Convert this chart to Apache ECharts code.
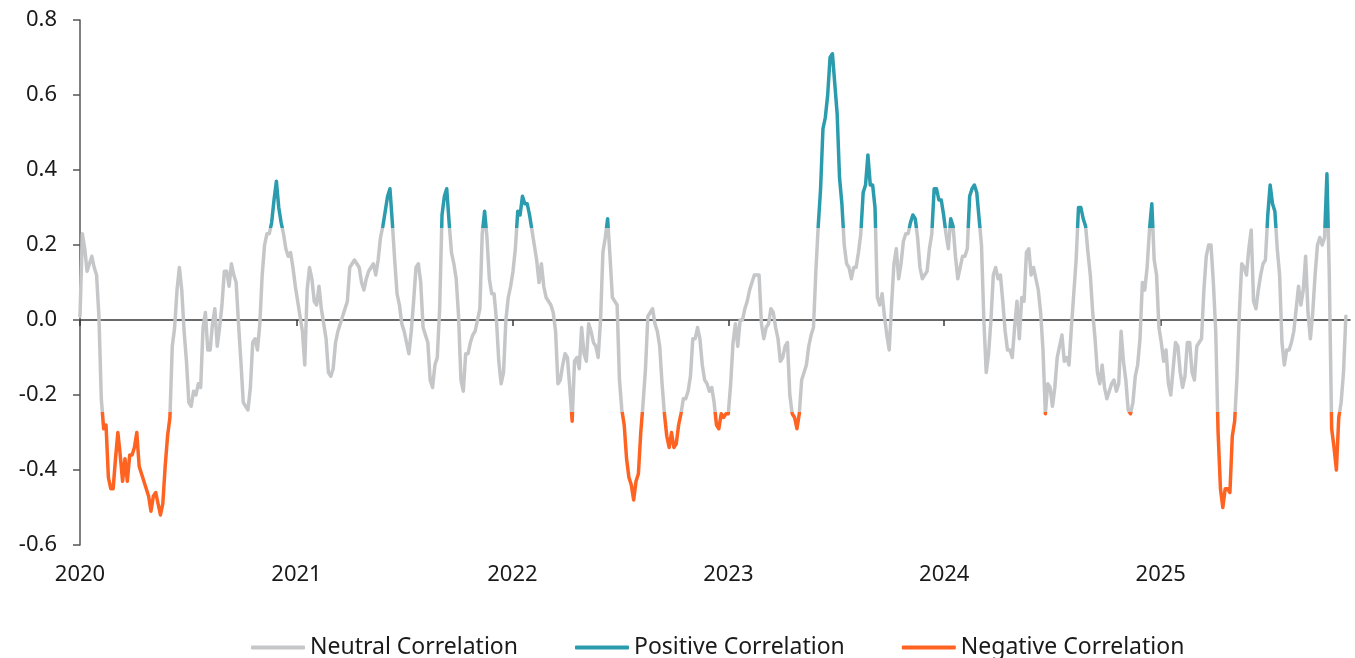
<!DOCTYPE html>
<html>
<head>
<meta charset="utf-8">
<script src="https://cdn.jsdelivr.net/npm/echarts@6/dist/echarts.min.js"></script>
<style>
  html, body { margin: 0; padding: 0; background: #fff; }
  #chart { width: 1355px; height: 658px; }
</style>
</head>
<body>
<div id="chart"></div>
<script>
// correlation readings, one every 4 days from 1 Jan 2020
const startDate = [2020, 0, 1];
const stepDays = 4;
const corr = [
  0.01, 0.23, 0.19, 0.13, 0.15, 0.17, 0.14, 0.12, 0.01, -0.21,
  -0.29, -0.28, -0.42, -0.45, -0.45, -0.37, -0.30, -0.36, -0.43, -0.37,
  -0.43, -0.36, -0.36, -0.34, -0.30, -0.39, -0.41, -0.43, -0.45, -0.47,
  -0.51, -0.47, -0.46, -0.49, -0.52, -0.49, -0.39, -0.31, -0.26, -0.07,
  -0.02, 0.08, 0.14, 0.08, -0.03, -0.11, -0.22, -0.23, -0.19, -0.20,
  -0.17, -0.18, -0.02, 0.02, -0.08, -0.08, -0.01, 0.03, -0.07, -0.02,
  0.04, 0.13, 0.13, 0.09, 0.15, 0.12, 0.10, -0.01, -0.11, -0.22,
  -0.23, -0.24, -0.18, -0.06, -0.05, -0.08, -0.01, 0.12, 0.20, 0.23,
  0.23, 0.26, 0.32, 0.37, 0.30, 0.26, 0.23, 0.19, 0.17, 0.18,
  0.14, 0.09, 0.05, 0.01, -0.03, -0.12, 0.08, 0.14, 0.11, 0.05,
  0.04, 0.09, 0.03, -0.01, -0.05, -0.14, -0.15, -0.13, -0.06, -0.03,
  -0.01, 0.01, 0.03, 0.05, 0.14, 0.15, 0.16, 0.15, 0.14, 0.10,
  0.08, 0.11, 0.13, 0.14, 0.15, 0.12, 0.16, 0.22, 0.25, 0.29,
  0.33, 0.35, 0.26, 0.16, 0.07, 0.04, -0.01, -0.03, -0.06, -0.09,
  -0.03, 0.05, 0.14, 0.15, 0.10, -0.02, -0.04, -0.06, -0.16, -0.18,
  -0.12, -0.10, 0.03, 0.28, 0.33, 0.35, 0.26, 0.18, 0.15, 0.11,
  0.01, -0.16, -0.19, -0.09, -0.09, -0.06, -0.04, -0.03, 0.00, 0.03,
  0.23, 0.29, 0.22, 0.11, 0.07, 0.07, 0.00, -0.11, -0.17, -0.14,
  0.00, 0.06, 0.09, 0.13, 0.19, 0.29, 0.28, 0.33, 0.31, 0.31,
  0.28, 0.24, 0.20, 0.16, 0.10, 0.15, 0.09, 0.06, 0.05, 0.04,
  0.02, -0.03, -0.17, -0.16, -0.12, -0.09, -0.10, -0.18, -0.27, -0.11,
  -0.10, -0.13, -0.02, -0.09, -0.11, -0.01, -0.03, -0.06, -0.07, -0.10,
  0.00, 0.18, 0.22, 0.27, 0.17, 0.06, 0.05, 0.04, -0.16, -0.24,
  -0.28, -0.37, -0.42, -0.44, -0.48, -0.43, -0.41, -0.30, -0.22, -0.13,
  0.01, 0.02, 0.03, -0.01, -0.03, -0.07, -0.17, -0.25, -0.31, -0.34,
  -0.30, -0.34, -0.33, -0.28, -0.25, -0.21, -0.21, -0.19, -0.15, -0.05,
  -0.05, -0.02, -0.05, -0.12, -0.16, -0.17, -0.19, -0.18, -0.22, -0.28,
  -0.29, -0.25, -0.26, -0.25, -0.25, -0.17, -0.06, -0.01, -0.07, 0.00,
  0.00, 0.03, 0.05, 0.08, 0.10, 0.12, 0.12, 0.12, -0.01, -0.05,
  -0.02, -0.01, 0.03, 0.02, -0.02, -0.05, -0.11, -0.10, -0.07, -0.06,
  -0.20, -0.25, -0.26, -0.29, -0.25, -0.16, -0.14, -0.12, -0.07, -0.04,
  -0.02, 0.13, 0.25, 0.35, 0.51, 0.54, 0.60, 0.70, 0.71, 0.63,
  0.55, 0.38, 0.31, 0.20, 0.15, 0.14, 0.11, 0.14, 0.14, 0.18,
  0.23, 0.34, 0.36, 0.44, 0.36, 0.36, 0.30, 0.06, 0.04, 0.07,
  0.01, -0.04, -0.08, 0.04, 0.15, 0.19, 0.11, 0.15, 0.21, 0.23,
  0.23, 0.26, 0.28, 0.27, 0.22, 0.14, 0.11, 0.12, 0.13, 0.19,
  0.23, 0.35, 0.35, 0.32, 0.32, 0.28, 0.23, 0.19, 0.27, 0.25,
  0.17, 0.11, 0.14, 0.17, 0.17, 0.19, 0.33, 0.35, 0.36, 0.34,
  0.27, 0.20, 0.00, -0.14, -0.09, 0.00, 0.12, 0.14, 0.11, 0.12,
  0.05, -0.03, -0.08, -0.08, -0.10, -0.02, 0.05, -0.05, 0.06, 0.05,
  0.18, 0.19, 0.12, 0.14, 0.11, 0.08, 0.02, -0.08, -0.25, -0.17,
  -0.18, -0.23, -0.18, -0.10, -0.07, -0.04, -0.11, -0.10, -0.12, -0.02,
  0.07, 0.16, 0.30, 0.30, 0.27, 0.25, 0.18, 0.12, 0.02, -0.05,
  -0.14, -0.17, -0.12, -0.18, -0.21, -0.19, -0.17, -0.16, -0.19, -0.17,
  -0.03, -0.11, -0.16, -0.24, -0.25, -0.22, -0.15, -0.12, -0.05, 0.10,
  0.08, 0.14, 0.24, 0.31, 0.16, 0.12, -0.02, -0.06, -0.11, -0.08,
  -0.17, -0.20, -0.13, -0.06, -0.07, -0.14, -0.18, -0.15, -0.06, -0.06,
  -0.14, -0.16, -0.07, -0.06, -0.05, 0.08, 0.17, 0.20, 0.20, 0.10,
  -0.03, -0.30, -0.45, -0.50, -0.45, -0.45, -0.46, -0.31, -0.27, -0.15,
  0.02, 0.15, 0.14, 0.12, 0.19, 0.24, 0.05, 0.03, 0.08, 0.12,
  0.15, 0.16, 0.28, 0.36, 0.31, 0.29, 0.19, 0.12, -0.06, -0.12,
  -0.08, -0.08, -0.06, -0.03, 0.03, 0.09, 0.04, 0.08, 0.17, 0.02,
  -0.05, 0.02, 0.12, 0.20, 0.22, 0.20, 0.22, 0.39, 0.12, -0.29,
  -0.34, -0.40, -0.26, -0.22, -0.14, 0.01
];
const years = [2020, 2021, 2022, 2023, 2024, 2025];
const posLimit = 0.245;
const negLimit = -0.245;

const seriesNames = ['Neutral Correlation', 'Positive Correlation', 'Negative Correlation'];
const colors = ['#c5c6c8', '#2b9cae', '#fe6322'];

const points = corr.map((v, i) => {
  const d = new Date(startDate[0], startDate[1], startDate[2] + i * stepDays);
  return [d.getTime(), v];
});
const yearStarts = years.map(y => new Date(y, 0, 1).getTime());
const xMin = yearStarts[0];
const xMax = new Date(2025, 10, 17).getTime();

const font = 'Noto Sans';
const textColor = '#1a1a1a';

const chart = echarts.init(document.getElementById('chart'));
chart.setOption({
  animation: false,
  grid: { left: 80, right: 5, top: 20, bottom: 113 },
  legend: {
    left: 246,
    top: 631,
    icon: 'roundRect',
    itemWidth: 54,
    itemHeight: 4,
    itemGap: 57,
    textStyle: { fontFamily: font, fontSize: 23, color: textColor },
    data: seriesNames.map((n, i) => ({ name: n, itemStyle: { color: colors[i] } }))
  },
  xAxis: [
    {
      // date axis drawn on the zero line: line and yearly ticks only
      type: 'value',
      min: xMin,
      max: xMax,
      axisLine: { onZero: true, lineStyle: { color: '#3a3a3a', width: 1.5 } },
      axisTick: {
        show: true,
        length: 6,
        customValues: yearStarts,
        lineStyle: { color: '#3a3a3a', width: 1.5 }
      },
      axisLabel: { show: false },
      splitLine: { show: false }
    },
    {
      // year labels along the bottom of the plot
      type: 'value',
      min: xMin,
      max: xMax,
      position: 'bottom',
      axisLine: { show: false, onZero: false },
      axisTick: { show: false },
      axisLabel: {
        margin: 19,
        fontFamily: font,
        fontSize: 22,
        color: textColor,
        customValues: yearStarts,
        formatter: v => String(new Date(v).getFullYear())
      },
      splitLine: { show: false }
    }
  ],
  yAxis: {
    type: 'value',
    min: -0.6,
    max: 0.8,
    interval: 0.2,
    axisLine: { show: true, lineStyle: { color: '#555', width: 1.5 } },
    axisTick: { show: true, length: 7, lineStyle: { color: '#555', width: 1.5 } },
    axisLabel: {
      margin: 23,
      fontFamily: font,
      fontSize: 22,
      color: textColor,
      formatter: v => v.toFixed(1)
    },
    splitLine: { show: false }
  },
  visualMap: {
    type: 'piecewise',
    show: false,
    seriesIndex: 0,
    dimension: 1,
    pieces: [
      { lt: negLimit, color: colors[2] },
      { gte: negLimit, lte: posLimit, color: colors[0] },
      { gt: posLimit, color: colors[1] }
    ]
  },
  series: [
    {
      name: seriesNames[0],
      type: 'line',
      xAxisIndex: 0,
      data: points,
      showSymbol: false,
      lineStyle: { width: 3.5, cap: 'round', join: 'round' },
      itemStyle: { color: colors[0] }
    },
    {
      name: seriesNames[1],
      type: 'line',
      xAxisIndex: 0,
      data: [],
      itemStyle: { color: colors[1] },
      lineStyle: { color: colors[1] }
    },
    {
      name: seriesNames[2],
      type: 'line',
      xAxisIndex: 0,
      data: [],
      itemStyle: { color: colors[2] },
      lineStyle: { color: colors[2] }
    }
  ]
});
</script>
</body>
</html>
